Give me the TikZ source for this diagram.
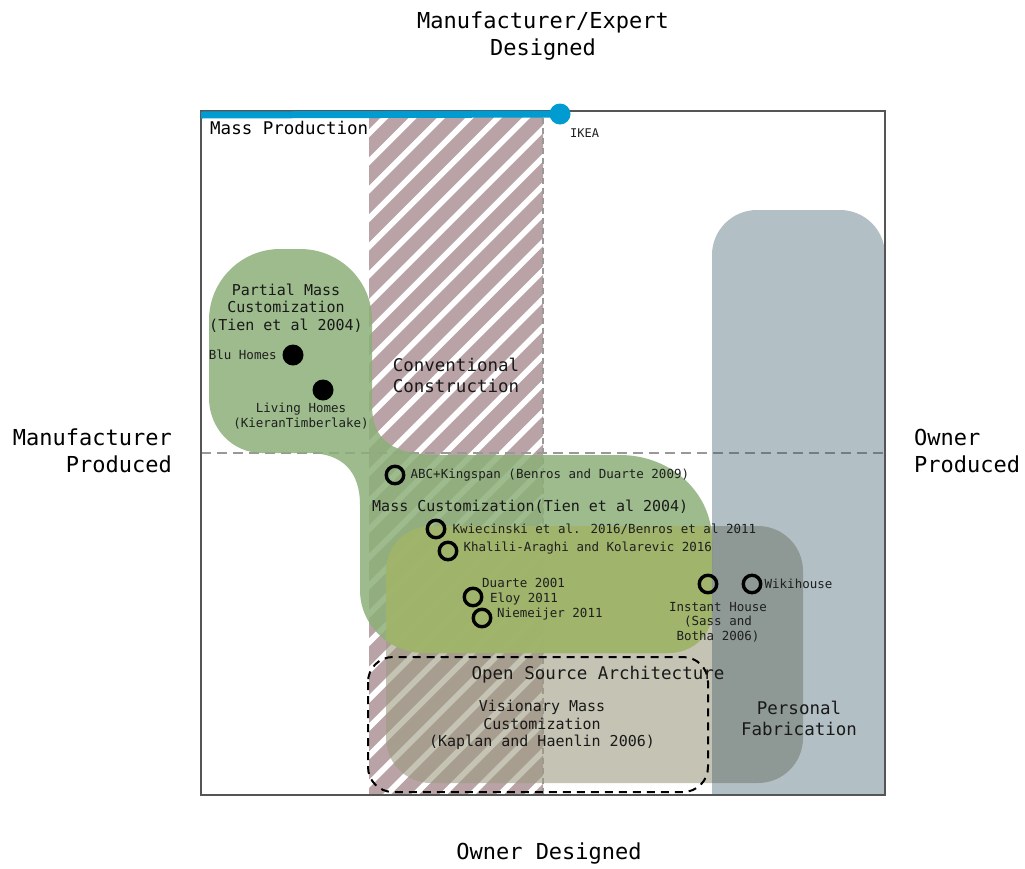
\documentclass[tikz,border=0pt]{standalone}
\usepackage{fontspec}
\setmainfont{DejaVu Sans Mono}
\usepackage{xcolor}
\usepackage{tikz}
\usetikzlibrary{positioning}

\definecolor{stripe}{RGB}{185,163,166}
\definecolor{custgreen}{RGB}{140,176,121}
\definecolor{olivemix}{RGB}{163,181,105}
\definecolor{opentan}{RGB}{157,155,130}
\definecolor{fabblue}{RGB}{55,87,102}
\definecolor{ikeablue}{RGB}{0,155,208}
\definecolor{framegray}{RGB}{85,85,85}

\tikzset{
  axislabel/.style={font=\fontsize{22}{27}\selectfont, align=center, inner sep=1pt},
  biglabel/.style={font=\fontsize{17.5}{21}\selectfont, align=center, inner sep=1pt, text=black!90},
  midlabel/.style={font=\fontsize{15}{17.5}\selectfont, align=center, inner sep=1pt, text=black!90},
  smalllabel/.style={font=\fontsize{12.5}{14.5}\selectfont, align=center, inner sep=1pt, text=black!88},
  opencirc/.style={circle, draw, line width=3.4pt, minimum size=17.5pt, inner sep=0pt},
  fulldot/.style={circle, fill=black, minimum size=21pt, inner sep=0pt},
}

% outline of the mass customization blob
\newcommand{\masscustpath}{(209,320) .. controls (209,281) and (241,249) .. (280,249)
  -- (300,249) .. controls (340,249) and (372,281) .. (372,320)
  -- (372,405) .. controls (372,440) and (392,455) .. (440,455)
  -- (620,455) .. controls (671,455) and (712,493) .. (712,540)
  -- (712,612) .. controls (712,635) and (693,653) .. (668,653)
  -- (425,653) .. controls (389,653) and (360,625) .. (360,590)
  -- (360,505) .. controls (360,472) and (343,453) .. (308,453)
  -- (262,453) .. controls (232,453) and (209,428) .. (209,398) -- cycle}

\begin{document}
\begin{tikzpicture}[x=1pt, y=-1pt]
  \useasboundingbox[fill=white] (0,0) rectangle (1025,868);

  % conventional construction strip
  \begin{scope}
    \clip (369,112) rectangle (543,795);
    \foreach \k in {0,...,33}
      \draw[stripe, line width=14pt] ({-340+\k*28.28},800) -- ++(900,-900);
  \end{scope}
  \draw[gray!80, line width=1.5pt, dash pattern=on 6pt off 4pt] (543,118) -- (543,795);
  \draw[gray!80, line width=2pt, dash pattern=on 10pt off 6pt] (201,453) -- (885,453);

  % regions
  \fill[opentan, opacity=.6, rounded corners=45pt] (386,526) rectangle (803,783);
  \fill[custgreen, opacity=.85] \masscustpath;
  \begin{scope}
    \clip[rounded corners=45pt] (386,526) rectangle (803,783);
    \fill[olivemix, opacity=.85] \masscustpath;
  \end{scope}
  \begin{scope}
    \clip (0,0) rectangle (1025,795);
    \fill[fabblue, opacity=.38, rounded corners=45pt] (712,210) rectangle (885,900);
  \end{scope}

  \draw[framegray, line width=1.2pt] (201,111) rectangle (885,795);

  % mass production line
  \node[circle, fill=ikeablue, minimum size=21pt, inner sep=0pt] (ikea) at (560,114) {};
  \coordinate (mpstart) at (201,115);
  \draw[ikeablue, line width=7pt] (mpstart) -- (ikea.center);

  % open source architecture
  \draw[line width=2pt, dash pattern=on 8pt off 6pt, rounded corners=25pt] (368,657) rectangle (708,792);

  % axis labels
  \node[axislabel] (top) at (543,36) {Manufacturer/Expert\\Designed};
  \node[axislabel, align=right, anchor=east] (left) at (173,451) {Manufacturer\\Produced};
  \node[axislabel, align=left, anchor=west] (right) at (913,451) {Owner\\Produced};
  \node[axislabel] (bottom) at (549,853) {Owner Designed};

  % region labels
  \node[biglabel, anchor=west, text=black] (massprod) at (209,128) {Mass Production};
  \node[smalllabel, font=\fontsize{12}{14}\selectfont, anchor=west] (ikealbl) at (569,133) {IKEA};
  \node[midlabel] (partial) at (286,308) {Partial Mass\\Customization\\(Tien et al 2004)};
  \node[biglabel] (conv) at (456,375) {Conventional\\Construction};
  \node[midlabel, anchor=west] (masscust) at (371,507) {Mass Customization(Tien et al 2004)};
  \node[biglabel] (osa) at (598,675) {Open Source Architecture};
  \node[midlabel] (visionary) at (542,725) {Visionary Mass\\Customization\\(Kaplan and Haenlin 2006)};
  \node[biglabel] (persfab) at (799,718) {Personal\\Fabrication};

  % examples
  \node[fulldot] (blu) at (293,355) {};
  \node[smalllabel, left=4.5pt of blu] (blulbl) {Blu Homes};
  \node[fulldot] (living) at (323,390) {};
  \node[smalllabel] (livinglbl) at (301,416) {Living Homes\\(KieranTimberlake)};

  \node[opencirc] (abc) at (395,475) {};
  \node[smalllabel, right=4pt of abc] (abclbl) {ABC+Kingspan (Benros and Duarte 2009)};
  \node[opencirc] (kwi) at (436,529) {};
  \node[smalllabel, right=5pt of kwi] (kwilbl) {Kwiecinski et al. 2016/Benros et al 2011};
  \node[opencirc] (kha) at (448,551) {};
  \node[smalllabel, right=4pt of kha, yshift=3pt] (khalbl) {Khalili-Araghi and Kolarevic 2016};
  \node[opencirc] (duarte) at (473,597) {};
  \node[opencirc] (niem) at (482,618) {};
  \node[smalllabel, anchor=west] (duartelbl) at (481,583) {Duarte 2001};
  \node[smalllabel, anchor=west] (eloylbl) at (489,599) {Eloy 2011};
  \node[smalllabel, anchor=west] (niemlbl) at (496,614) {Niemeijer 2011};
  \node[opencirc] (instant) at (708,584) {};
  \node[smalllabel] (instantlbl) at (718,622) {Instant House\\(Sass and\\Botha 2006)};
  \node[opencirc] (wiki) at (752,584) {};
  \node[smalllabel, right=1pt of wiki] (wikilbl) {Wikihouse};
\end{tikzpicture}
\end{document}
